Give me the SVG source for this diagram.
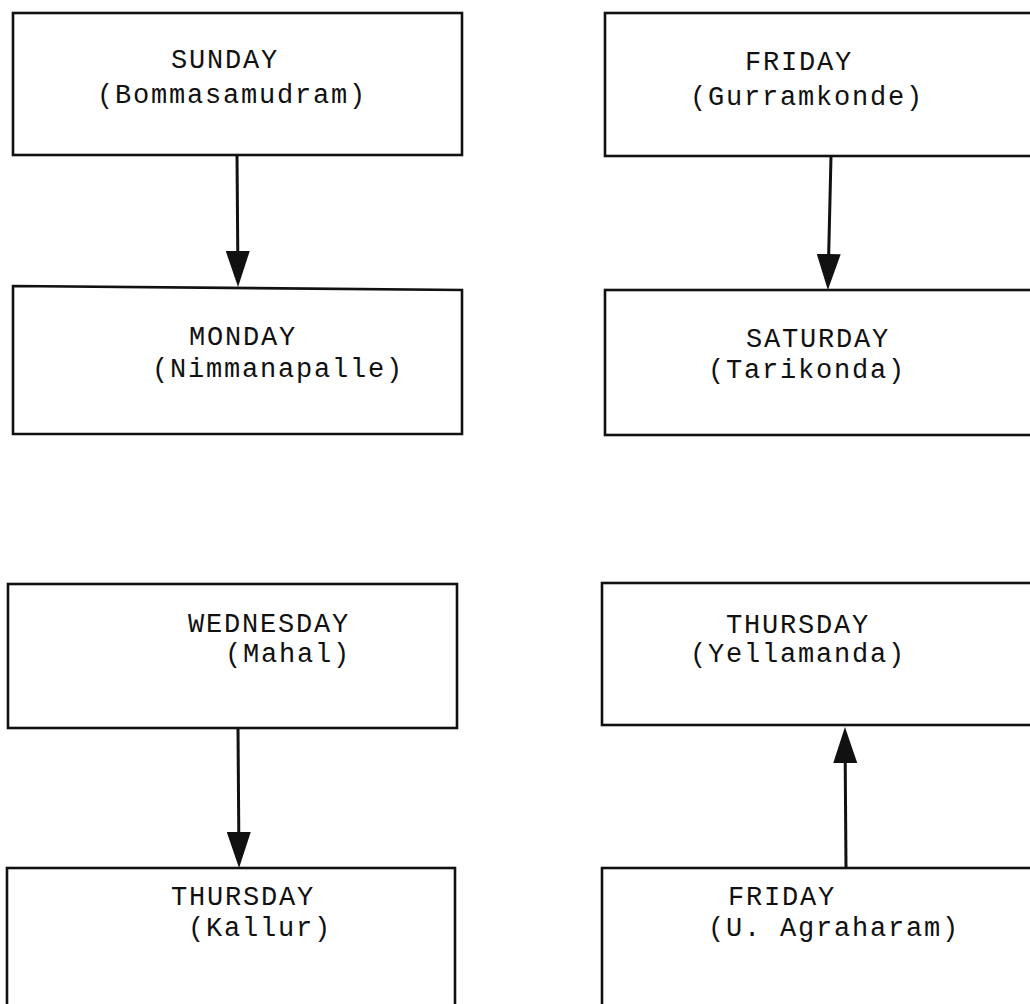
<svg xmlns="http://www.w3.org/2000/svg" width="1030" height="1004" viewBox="0 0 1030 1004">
  <style>
    .box { fill: #fff; stroke: #111; stroke-width: 2.6; }
    .lbl { font-family: "Liberation Mono", "DejaVu Sans Mono", monospace; font-size: 27px; letter-spacing: 1.8px; fill: #111; }
    .edge { stroke: #111; stroke-width: 3; fill: none; marker-end: url(#head); }
  </style>
  <defs>
    <marker id="head" markerUnits="userSpaceOnUse" markerWidth="36" markerHeight="24" viewBox="0 0 36 24" refX="30" refY="12" orient="auto">
      <path d="M0,0 L36,12 L0,24 z" fill="#111"/>
    </marker>
  </defs>
  <rect width="1030" height="1004" fill="#fff"/>

  <!-- market-day nodes -->
  <g id="sunday">
    <rect class="box" x="13" y="13" width="449" height="142"/>
    <text class="lbl" x="171" y="68">SUNDAY</text>
    <text class="lbl" x="97" y="103">(Bommasamudram)</text>
  </g>
  <g id="monday">
    <path class="box" d="M13,286 L462,290 L462,434 L13,434 Z"/>
    <text class="lbl" x="189" y="345">MONDAY</text>
    <text class="lbl" x="152" y="377">(Nimmanapalle)</text>
  </g>
  <g id="friday-gurramkonde">
    <rect class="box" x="605" y="13" width="440" height="143"/>
    <text class="lbl" x="745" y="70">FRIDAY</text>
    <text class="lbl" x="690" y="105">(Gurramkonde)</text>
  </g>
  <g id="saturday">
    <rect class="box" x="605" y="290" width="440" height="145"/>
    <text class="lbl" x="746" y="347">SATURDAY</text>
    <text class="lbl" x="708" y="378">(Tarikonda)</text>
  </g>
  <g id="wednesday">
    <rect class="box" x="8" y="584" width="449" height="144"/>
    <text class="lbl" x="188" y="632">WEDNESDAY</text>
    <text class="lbl" x="225" y="662">(Mahal)</text>
  </g>
  <g id="thursday-kallur">
    <rect class="box" x="7" y="868" width="448" height="150"/>
    <text class="lbl" x="171" y="905">THURSDAY</text>
    <text class="lbl" x="188" y="936">(Kallur)</text>
  </g>
  <g id="thursday-yellamanda">
    <rect class="box" x="602" y="583" width="443" height="142"/>
    <text class="lbl" x="726" y="633">THURSDAY</text>
    <text class="lbl" x="690" y="662">(Yellamanda)</text>
  </g>
  <g id="friday-agraharam">
    <rect class="box" x="602" y="868" width="443" height="150"/>
    <text class="lbl" x="728" y="905">FRIDAY</text>
    <text class="lbl" x="708" y="936">(U. Agraharam)</text>
  </g>

  <!-- connectors -->
  <g id="connectors">
    <line class="edge" x1="237" y1="155" x2="238" y2="281"/>
    <line class="edge" x1="831" y1="156" x2="828" y2="284"/>
    <line class="edge" x1="238" y1="728" x2="239" y2="862"/>
    <line class="edge" x1="846" y1="868" x2="845" y2="733"/>
  </g>
</svg>
